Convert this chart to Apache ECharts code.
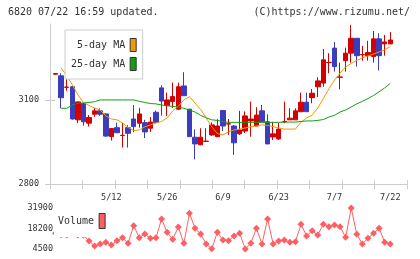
<!DOCTYPE html>
<html><head><meta charset="utf-8">
<script src="https://cdn.jsdelivr.net/npm/echarts@6/dist/echarts.min.js"></script>
<style>html,body{margin:0;padding:0;background:#fff}#c{width:420px;height:259px}</style>
</head><body><div id="c"></div>
<script>
const dates = ['4/23','4/24','4/25','4/28','4/30','5/1','5/2','5/7','5/8','5/9',
'5/12','5/13','5/14','5/15','5/16','5/19','5/20','5/21','5/22','5/23',
'5/26','5/27','5/28','5/29','5/30','6/2','6/3','6/4','6/5','6/6',
'6/9','6/10','6/11','6/12','6/13','6/16','6/17','6/18','6/19','6/20',
'6/23','6/24','6/25','6/26','6/27','6/30','7/1','7/2','7/3','7/4',
'7/7','7/8','7/9','7/10','7/11','7/14','7/15','7/16','7/17','7/18','7/22'];
const openP = [3192,3186,3145,3147,3029,3088,3017,3049,3061,3050,
2969,3001,2973,3001,3032,3017,3019,2999,3056,3143,
3080,3094,3067,3150,3067,2967,2940,2952,2975,2969,
3062,3014,3007,2979,2989,3025,3007,3061,3022,2968,
2961,3022,3029,3029,3058,3092,3108,3147,3160,3233,
3285,3181,3240,3267,3320,3261,3258,3255,3318,3300,3300];
const closeP = [3194,3108,3146,3032,3093,3022,3037,3061,3049,2971,
2998,2983,2974,2981,3005,3050,2986,3021,3020,3096,
3100,3112,3147,3115,2969,2943,2967,2953,3011,3007,
3007,3015,2947,2993,3043,3032,3046,3022,2943,2979,
2996,3023,3035,3061,3092,3058,3124,3168,3243,3234,
3219,3182,3267,3320,3258,3262,3269,3318,3258,3307,3314];
const lowP = [3190,3070,3133,3030,3017,3008,3005,3040,3043,2969,
2955,2982,2930,2930,2985,3001,2964,2986,3017,3044,
3043,3071,3064,3115,2969,2888,2939,2950,2972,2967,
2989,2975,2904,2975,2982,2969,3007,3022,2943,2957,
2957,3017,3029,3029,3058,3058,3088,3110,3147,3195,
3201,3138,3201,3233,3219,3240,3240,3233,3205,3258,3300];
const highP = [3196,3195,3183,3150,3094,3090,3046,3072,3070,3052,
2999,3019,3018,3010,3082,3072,3029,3039,3062,3152,
3126,3162,3162,3199,3068,2995,2999,2999,3020,3031,
3062,3032,3010,3061,3059,3094,3074,3082,3049,3022,
3018,3094,3070,3070,3126,3126,3139,3181,3282,3267,
3307,3233,3287,3368,3320,3293,3311,3346,3338,3332,3342];
const ma5 = [null,3214,3186,3154,3118,3091,3080,3071,3064,3043,
3032,3029,3018,3002,2991,2993,3004,3011,3018,3023,
3036,3061,3077,3100,3112,3089,3066,3036,3004,2980,
2975,2986,2993,2996,3000,3004,3007,3011,3009,3005,
3000,2996,2996,2996,3021,3036,3046,3071,3105,3140,
3171,3196,3218,3230,3241,3250,3257,3264,3271,3279,3290];
const ma25 = [null,3070,3070,3082,3088,3089,3091,3094,3100,3100,
3100,3100,3100,3100,3100,3095,3091,3087,3086,3082,
3079,3077,3075,3070,3064,3057,3045,3036,3029,3027,
3023,3020,3020,3020,3020,3020,3020,3020,3020,3020,
3020,3021,3021,3021,3023,3025,3025,3027,3030,3039,
3045,3057,3064,3075,3086,3095,3105,3116,3129,3143,3159];
const volume = [15000,14000,13800,15500,13800,13800,9850,6500,7840,8980,
7170,10050,12050,8300,20070,12050,14520,11650,12050,24550,
15660,10980,19200,8300,28360,18330,14520,7840,4700,15660,
10510,10050,13190,15000,4500,8300,18330,7840,24550,7840,
9850,10510,8980,9380,21000,13190,16730,13860,21000,19400,
20540,19400,12320,31900,14320,7840,11650,15000,18330,8980,7840];
const tickLabels = ['5/12','5/26','6/9','6/23','7/7','7/22'];
const priceTicks = [2800, 3100];
const volTicks = [4500, 18200, 31900];

const cats = ['pad0'].concat(dates, ['pad1','pad2','pad3']);
const FONT = '"DejaVu Sans Mono", "Liberation Mono", monospace';
const RED = '#d40000', BLUE = '#3c3cbf', ORANGE = '#f39800', GREEN = '#10a010', VOL = '#ff5f62';
const nz = v => (v == null ? '-' : v);
const plain = v => String(Math.round(v));

const chart = echarts.init(document.getElementById('c'), null, {renderer: 'canvas'});
chart.setOption({
  animation: false,
  backgroundColor: '#fff',
  textStyle: {fontFamily: FONT},
  title: [
    {text: '6820 07/22 16:59 updated.', left: 8, top: 7, padding: 0,
     textStyle: {fontSize: 10, fontWeight: 'normal', color: '#333', fontFamily: FONT}},
    {text: '(C)https://www.rizumu.net/', right: 10, top: 7, padding: 0,
     textStyle: {fontSize: 10, fontWeight: 'normal', color: '#333', fontFamily: FONT}}
  ],
  legend: [
    {data: [
       {name: '5-day MA', itemStyle: {color: ORANGE, borderColor: '#333', borderWidth: 1}},
       {name: '25-day MA', itemStyle: {color: GREEN, borderColor: '#333', borderWidth: 1}}],
     left: 65, top: 30, orient: 'vertical', align: 'right', icon: 'rect',
     itemWidth: 6, itemHeight: 13, itemGap: 5, padding: [8, 6, 8, 6],
     backgroundColor: '#fff', borderColor: '#ccc', borderWidth: 1, selectedMode: false,
     formatter: n => n.padStart(9, ' '),
     textStyle: {fontSize: 10, color: '#333', fontFamily: FONT}},
    {data: [{name: 'Volume', itemStyle: {color: VOL, borderColor: '#333', borderWidth: 1}}],
     left: 54, top: 209, align: 'right', icon: 'rect', itemWidth: 6, itemHeight: 15,
     padding: [4, 4, 8, 4], backgroundColor: '#fff', borderWidth: 0, selectedMode: false,
     textStyle: {fontSize: 10, color: '#333', fontFamily: FONT}}
  ],
  grid: [
    {left: 50, width: 357, top: 24, height: 160},
    {left: 50, width: 357, top: 208, height: 41}
  ],
  xAxis: [
    {type: 'category', gridIndex: 0, data: cats, boundaryGap: false,
     axisLine: {lineStyle: {color: '#ccc'}}, axisTick: {show: false},
     axisLabel: {interval: (i, v) => tickLabels.includes(v), fontSize: 8.5, color: '#333', margin: 9, fontFamily: FONT},
     splitLine: {show: false}},
    {type: 'value', gridIndex: 0, min: 0, max: 11, interval: 1, position: 'bottom', offset: -4,
     axisLine: {show: false}, axisTick: {show: true, length: 9, lineStyle: {color: '#ccc'}},
     axisLabel: {show: false}, splitLine: {show: false}},
    {type: 'category', gridIndex: 1, data: cats, boundaryGap: false, show: false}
  ],
  yAxis: [
    {type: 'value', gridIndex: 0, min: 2800, max: 3371,
     axisLine: {show: true, lineStyle: {color: '#ccc'}}, axisTick: {show: false},
     axisLabel: {customValues: priceTicks, formatter: plain, fontSize: 8.5, color: '#333', margin: 11, fontFamily: FONT},
     splitLine: {show: false}},
    {type: 'value', gridIndex: 0, min: 2800, max: 3371, position: 'left', offset: -5,
     axisLine: {show: false}, axisTick: {show: true, customValues: priceTicks, length: 10, lineStyle: {color: '#ccc'}},
     axisLabel: {show: false}, splitLine: {show: false}},
    {type: 'value', gridIndex: 1, min: 4500, max: 31900,
     axisLine: {show: false}, axisTick: {show: false},
     axisLabel: {customValues: volTicks, formatter: plain, fontSize: 8.5, color: '#333', margin: -3, fontFamily: FONT},
     splitLine: {show: false}}
  ],
  series: [
    {type: 'candlestick', xAxisIndex: 0, yAxisIndex: 0, barWidth: 5,
     data: dates.map((d, i) => [d, openP[i], closeP[i], lowP[i], highP[i]]),
     encode: {x: 0, y: [1, 2, 3, 4]},
     itemStyle: {color: RED, color0: BLUE, borderColor: RED, borderColor0: BLUE, borderWidth: 1}},
    {type: 'line', name: '5-day MA', xAxisIndex: 0, yAxisIndex: 0, showSymbol: false,
     data: dates.map((d, i) => [d, nz(ma5[i])]),
     lineStyle: {color: ORANGE, width: 1}, itemStyle: {color: ORANGE}},
    {type: 'line', name: '25-day MA', xAxisIndex: 0, yAxisIndex: 0, showSymbol: false,
     data: dates.map((d, i) => [d, nz(ma25[i])]),
     lineStyle: {color: GREEN, width: 1}, itemStyle: {color: GREEN}},
    {type: 'line', name: 'Volume', xAxisIndex: 2, yAxisIndex: 2, symbol: 'diamond', symbolSize: 7,
     showSymbol: true, showAllSymbol: true,
     data: dates.map((d, i) => [d, volume[i]]),
     lineStyle: {color: VOL, width: 1}, itemStyle: {color: VOL}}
  ]
});
</script></body></html>
